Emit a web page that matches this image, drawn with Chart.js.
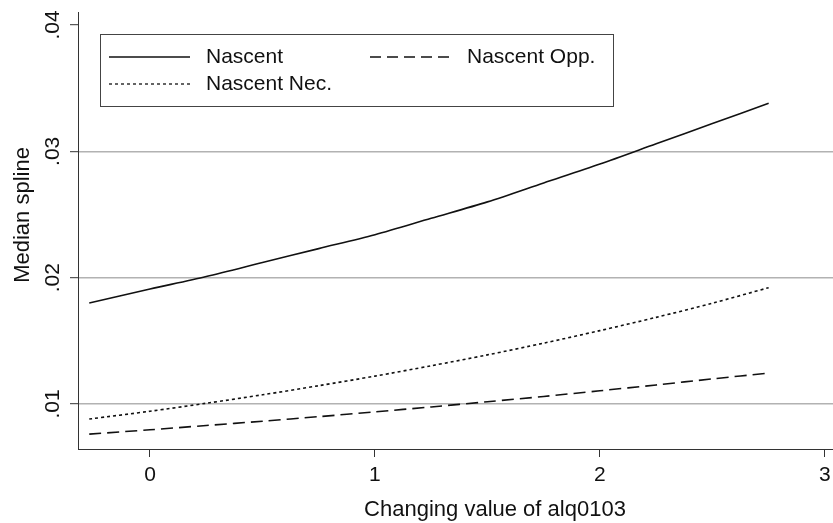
<!DOCTYPE html>
<html>
<head>
<meta charset="utf-8">
<script src="https://cdn.jsdelivr.net/npm/chart.js@4.4.1/dist/chart.umd.min.js"></script>
<style>
  html, body { margin: 0; padding: 0; background: #ffffff; }
  #wrap { width: 833px; height: 523px; }
</style>
</head>
<body>
<div id="wrap"><canvas id="c" width="833" height="523"></canvas></div>
<script>
// Evaluation points of alq0103
const xValues = [-0.27, 0, 0.25, 0.5, 0.75, 1, 1.25, 1.5, 1.75, 2, 2.25, 2.5, 2.75];

// Median spline for each group
const nascent    = [0.0180, 0.0191, 0.0201, 0.0212, 0.0223, 0.0234, 0.0247, 0.0260, 0.0275, 0.0290, 0.0306, 0.0322, 0.0338];
const nascentOpp = [0.00762, 0.00796, 0.00830, 0.00864, 0.00900, 0.00938, 0.00977, 0.01018, 0.01060, 0.01105, 0.01151, 0.01199, 0.01245];
const nascentNec = [0.00881, 0.00943, 0.01006, 0.01073, 0.01145, 0.01221, 0.01303, 0.01389, 0.01482, 0.01581, 0.01686, 0.01798, 0.01921];

const seriesLabels = ['Nascent', 'Nascent Opp.', 'Nascent Nec.'];

// Axis ticks
const xTickValues = [0, 1, 2, 3];
const xTickLabels = ['0', '1', '2', '3'];
const yTickValues = [0.01, 0.02, 0.03, 0.04];
const yTickLabels = ['.01', '.02', '.03', '.04'];

const xTitle = 'Changing value of alq0103';
const yTitle = 'Median spline';

const FONT = "'Liberation Sans', Arial, Helvetica, sans-serif";
const INK = '#111111';

function points(ys) {
  return xValues.map((x, i) => ({ x: x, y: ys[i] }));
}

const lineStyles = [
  { borderDash: [] },
  { borderDash: [12, 6] },
  { borderDash: [3, 3] }
];

const datasets = [nascent, nascentOpp, nascentNec].map((ys, i) => ({
  label: seriesLabels[i],
  data: points(ys),
  showLine: true,
  borderColor: INK,
  borderWidth: 1.6,
  borderDash: lineStyles[i].borderDash,
  pointRadius: 0,
  tension: 0.3,
  fill: false
}));

// Text and legend drawn on top of the chart
const annotations = {
  id: 'annotations',
  afterDraw(chart) {
    const ctx = chart.ctx;
    const xs = chart.scales.x;
    const ys = chart.scales.y;
    ctx.save();
    ctx.fillStyle = INK;

    // x tick labels
    ctx.font = '21px ' + FONT;
    ctx.textAlign = 'center';
    ctx.textBaseline = 'middle';
    xTickValues.forEach((v, i) => {
      ctx.fillText(xTickLabels[i], xs.getPixelForValue(v), 475);
    });

    // y tick labels, rotated
    yTickValues.forEach((v, i) => {
      ctx.save();
      ctx.translate(53, ys.getPixelForValue(v));
      ctx.rotate(-Math.PI / 2);
      ctx.fillText(yTickLabels[i], 0, 0);
      ctx.restore();
    });

    // axis titles
    ctx.font = '22px ' + FONT;
    ctx.textBaseline = 'alphabetic';
    ctx.fillText(xTitle, 495, 516);
    ctx.save();
    ctx.translate(29, 215);
    ctx.rotate(-Math.PI / 2);
    ctx.textBaseline = 'alphabetic';
    ctx.fillText(yTitle, 0, 0);
    ctx.restore();

    // legend box
    const box = { l: 100, t: 34, r: 613, b: 106 };
    ctx.fillStyle = '#ffffff';
    ctx.fillRect(box.l, box.t, box.r - box.l, box.b - box.t);
    ctx.strokeStyle = '#444444';
    ctx.lineWidth = 1;
    ctx.strokeRect(box.l + 0.5, box.t + 0.5, box.r - box.l, box.b - box.t);

    const slots = [
      { x1: 109, x2: 190, tx: 206, y: 57 },
      { x1: 370, x2: 453, tx: 467, y: 57 },
      { x1: 109, x2: 190, tx: 206, y: 84 }
    ];
    chart.data.datasets.forEach((ds, i) => {
      const s = slots[i];
      ctx.strokeStyle = ds.borderColor;
      ctx.lineWidth = 1.3;
      ctx.setLineDash(i === 1 ? [11, 6] : ds.borderDash);
      ctx.beginPath();
      ctx.moveTo(s.x1, s.y);
      ctx.lineTo(s.x2, s.y);
      ctx.stroke();
      ctx.setLineDash([]);
      ctx.fillStyle = INK;
      ctx.font = '21px ' + FONT;
      ctx.textAlign = 'left';
      ctx.textBaseline = 'middle';
      ctx.fillText(ds.label, s.tx, s.y);
    });
    ctx.restore();
  }
};

new Chart(document.getElementById('c'), {
  type: 'scatter',
  data: { datasets: datasets },
  options: {
    responsive: false,
    animation: false,
    events: [],
    layout: { padding: { left: 78, top: 12, right: 0, bottom: 74 } },
    plugins: { legend: { display: false }, tooltip: { enabled: false } },
    scales: {
      x: {
        type: 'linear',
        min: -0.32,
        max: 3.036,
        afterBuildTicks(scale) { scale.ticks = xTickValues.map(v => ({ value: v })); },
        afterFit(scale) { scale.height = 0; },
        ticks: { display: false },
        grid: {
          drawOnChartArea: false,
          drawTicks: true,
          tickLength: 8,
          tickColor: '#333333',
          tickWidth: 1
        },
        border: { display: true, color: '#333333', width: 1 }
      },
      y: {
        type: 'linear',
        min: 0.00644,
        max: 0.04103,
        afterBuildTicks(scale) { scale.ticks = yTickValues.map(v => ({ value: v })); },
        afterFit(scale) { scale.width = 0; },
        ticks: { display: false },
        grid: {
          drawOnChartArea: true,
          drawTicks: true,
          tickLength: 8,
          tickColor: '#333333',
          tickWidth: 1,
          color: ctx => (ctx.tick && ctx.tick.value >= 0.04) ? 'rgba(0,0,0,0)' : '#b2b2b2',
          lineWidth: 1.4
        },
        border: { display: true, color: '#333333', width: 1 }
      }
    }
  },
  plugins: [annotations]
});
</script>
</body>
</html>
